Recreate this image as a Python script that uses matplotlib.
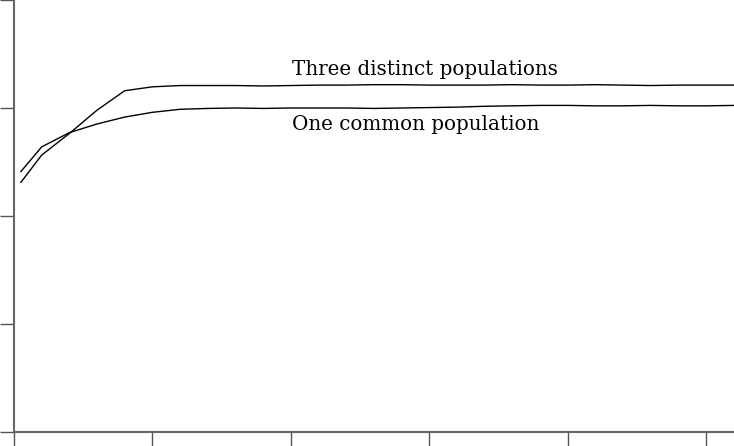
import numpy as np
import matplotlib

matplotlib.use('Agg')
import matplotlib.pyplot as plt

# generations sampled (every 4, starting at 1)
generations = [1, 4, 8, 12, 16, 20, 24, 28, 32, 36, 40, 44, 48, 52,
               56, 60, 64, 68, 72, 76, 80, 84, 88, 92, 96, 100, 104]

three_distinct = [0.578, 0.641, 0.691, 0.745, 0.790, 0.799, 0.802, 0.802,
                  0.802, 0.801, 0.802, 0.803, 0.803, 0.804, 0.804, 0.803,
                  0.803, 0.803, 0.804, 0.803, 0.803, 0.804, 0.803, 0.802,
                  0.803, 0.803, 0.803]

one_common = [0.603, 0.660, 0.693, 0.713, 0.729, 0.740, 0.747, 0.749,
              0.750, 0.749, 0.750, 0.750, 0.750, 0.749, 0.750, 0.751,
              0.752, 0.754, 0.755, 0.756, 0.756, 0.755, 0.755, 0.756,
              0.755, 0.755, 0.756]

xticks = [0, 20, 40, 60, 80, 100]
yticks = [0, 0.25, 0.5, 0.75, 1.0]

fig = plt.figure(figsize=(7.34, 4.46), dpi=100)
ax = fig.add_axes([14 / 734, 14 / 446, 720 / 734, 432 / 446])

ax.plot(generations, three_distinct, color='black', linewidth=1.0)
ax.plot(generations, one_common, color='black', linewidth=1.0)

# curve labels
ax.text(40.2, 0.826, 'Three distinct populations', family='DejaVu Serif',
        fontsize=14.3, va='baseline', ha='left')
ax.text(40.2, 0.699, 'One common population', family='DejaVu Serif',
        fontsize=14.3, va='baseline', ha='left')

ax.set_xlim(0, 104.05)
ax.set_ylim(0, 1.0)
ax.set_xticks(xticks)
ax.set_yticks(yticks)
ax.tick_params(direction='out', length=10, width=1.0, color='#555555',
               labelbottom=False, labelleft=False)
for side in ['top', 'right']:
    ax.spines[side].set_visible(False)
for side in ['left', 'bottom']:
    ax.spines[side].set_color('#666666')
    ax.spines[side].set_linewidth(1.5)

fig.savefig('out.png', dpi=100)
